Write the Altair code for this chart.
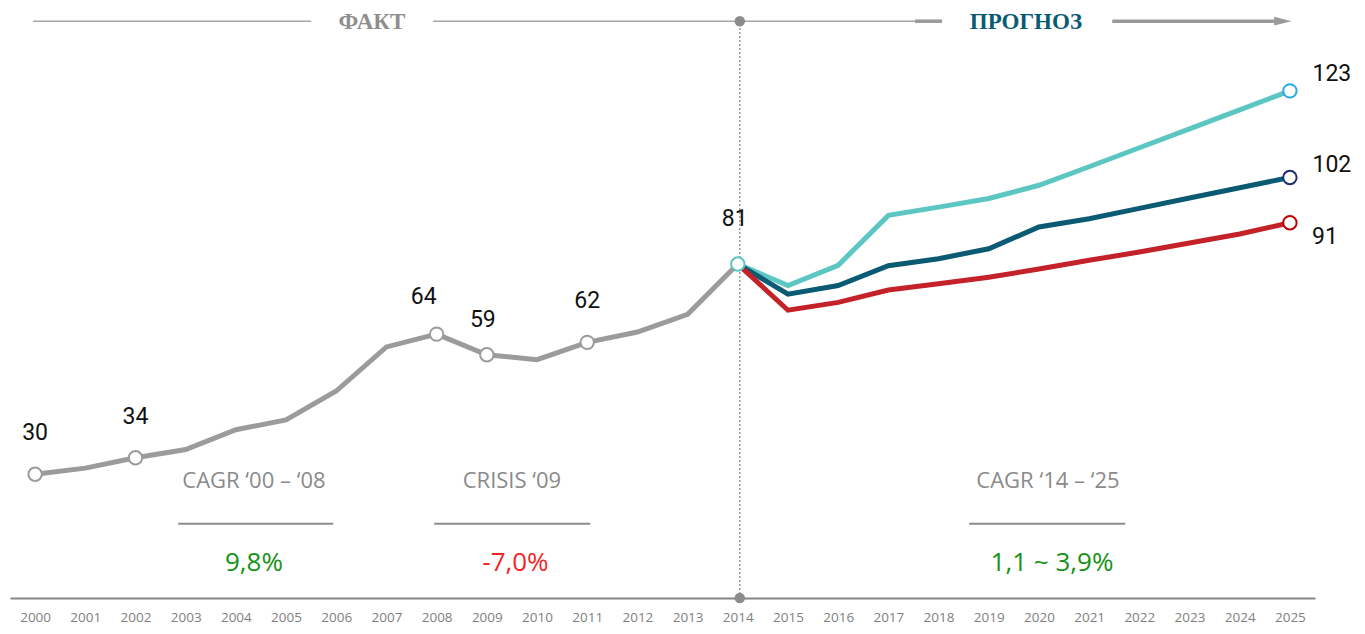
import altair as alt
import pandas as pd

# ---------------- data ----------------
fact_years = list(range(2000, 2015))
fact_values = [30, 31.5, 34, 36, 40.8, 43.2, 50.2, 60.9, 64, 59, 57.8, 62, 64.5, 68.8, 81]

fc_years = list(range(2014, 2026))
high = [81, 75.8, 80.7, 92.8, 94.8, 96.9, 100.1, 104.6, 109.2, 113.8, 118.4, 123]
mid = [81, 73.7, 75.8, 80.6, 82.3, 84.7, 90.0, 92.0, 94.5, 97.0, 99.5, 102]
low = [81, 69.8, 71.7, 74.7, 76.2, 77.8, 79.8, 81.9, 83.9, 86.1, 88.3, 91]

axis_years = list(range(2000, 2026))
marked_fact_years = [2000, 2002, 2008, 2009, 2011]

header_texts = ["ФАКТ", "ПРОГНОЗ"]
annot_titles = ["CAGR ‘00 – ‘08", "CRISIS ‘09", "CAGR ‘14 – ‘25"]
annot_values = ["9,8%", "-7,0%", "1,1 ~ 3,9%"]

# ---------------- tables ----------------
fact_df = pd.DataFrame({"year": fact_years, "value": fact_values})
fc_df = pd.concat([
    pd.DataFrame({"year": fc_years, "value": high, "s": "high"}),
    pd.DataFrame({"year": fc_years, "value": mid, "s": "mid"}),
    pd.DataFrame({"year": fc_years, "value": low, "s": "low"}),
])
fact_pts = fact_df[fact_df.year.isin(marked_fact_years)]
end_df = pd.DataFrame({
    "year": [2025, 2025, 2025],
    "value": [high[-1], mid[-1], low[-1]],
    "s": ["high", "mid", "low"],
})

GRAY = "#9b9b9b"
LINE_COLORS = {"high": "#5cc6c2", "mid": "#0a5a73", "low": "#c42129"}
END_COLORS = {"high": "#27aae1", "mid": "#1b2f6e", "low": "#c00000"}

xs = alt.Scale(domain=[1999.5, 2025.5], nice=False, zero=False)
ys = alt.Scale(domain=[0, 143.1], nice=False, zero=False)
xaxis = alt.Axis(values=axis_years, format="d", grid=False, ticks=False, title=None,
                 domainColor="#858585", domainWidth=2, labelColor="#808080",
                 labelFont="Open Sans", labelFontSize=13.5, labelPadding=23.5,
                 labelBaseline="alphabetic", labelFlush=False)


def X(f="year"):
    return alt.X(f"{f}:Q", scale=xs, axis=xaxis)


def Y(f="value"):
    return alt.Y(f"{f}:Q", scale=ys, axis=None)


# ---------------- header / decorations ----------------
HY = 139.9
thin_df = pd.DataFrame({"x0": [1999.96, 2007.93], "x1": [2005.50, 2017.53], "y": [HY, HY]})
thick_df = pd.DataFrame({"x0": [2017.53, 2021.46], "x1": [2018.07, 2024.75], "y": [HY, HY]})
thin = alt.Chart(thin_df).mark_rule(color="#a6a6a6", strokeWidth=1.5).encode(
    x=X("x0"), x2="x1", y=Y("y"))
thick = alt.Chart(thick_df).mark_rule(color="#9a9a9a", strokeWidth=3.5).encode(
    x=X("x0"), x2="x1", y=Y("y"))
arrow = alt.Chart(pd.DataFrame({"year": [2024.86], "value": [HY]})).mark_point(
    shape="M -1 -0.5 L 1 0 L -1 0.5 Z", filled=True, size=300, opacity=1,
    color="#9a9a9a", strokeWidth=0).encode(x=X(), y=Y())

head_df = pd.DataFrame({"year": [2006.71, 2019.74], "value": [138.1, 138.1],
                        "t": header_texts, "c": ["#8e8e8e", "#0b5a73"]})
heads = alt.Chart(head_df).mark_text(font="Liberation Serif", fontWeight="bold", fontSize=23,
                                     baseline="alphabetic", align="center").encode(
    x=X(), y=Y(), text="t:N", color=alt.Color("c:N", scale=None))

vline = alt.Chart(pd.DataFrame({"year": [2014.04], "y0": [0], "y1": [HY]})).mark_rule(
    color="#9a9a9a", strokeWidth=1.5, strokeDash=[2, 2]).encode(x=X(), y=Y("y0"), y2="y1")
vdots = alt.Chart(pd.DataFrame({"year": [2014.04, 2014.04], "value": [HY, 0]})).mark_point(
    filled=True, size=110, opacity=1, color="#8c8c8c").encode(x=X(), y=Y())

# ---------------- lines ----------------
fact_line = alt.Chart(fact_df).mark_line(color=GRAY, strokeWidth=5).encode(x=X(), y=Y())
fc_lines = [
    alt.Chart(fc_df[fc_df.s == s]).mark_line(color=LINE_COLORS[s], strokeWidth=5).encode(x=X(), y=Y())
    for s in ["high", "mid", "low"]
]

fact_dots = alt.Chart(fact_pts).mark_point(size=180, filled=False, fill="white", fillOpacity=1,
                                           stroke=GRAY, strokeWidth=2, opacity=1).encode(x=X(), y=Y())
dot14 = alt.Chart(fact_df[fact_df.year == 2014]).mark_point(
    size=180, fill="white", fillOpacity=1, stroke=LINE_COLORS["high"], strokeWidth=2, opacity=1).encode(
    x=X(), y=Y())
end_dots = alt.Chart(end_df).mark_point(size=180, fill="white", fillOpacity=1, strokeWidth=2, opacity=1).encode(
    x=X(), y=Y(), stroke=alt.Stroke("s:N", scale=alt.Scale(domain=list(END_COLORS), range=list(END_COLORS.values())), legend=None))


# ---------------- value labels ----------------
def vlabel(df, dx, dy):
    return alt.Chart(df).mark_text(font="Roboto", fontSize=23, color="#111111", dx=dx, dy=dy,
                                   baseline="middle", align="center").encode(
        x=X(), y=Y(), text=alt.Text("value:Q", format=".0f"))


labels = [
    vlabel(fact_df[fact_df.year.isin([2000, 2002, 2011])], 0, -41),
    vlabel(fact_df[fact_df.year == 2008], -13, -37),
    vlabel(fact_df[fact_df.year == 2009], -4, -35),
    vlabel(fact_df[fact_df.year == 2014], -3, -45),
    vlabel(end_df[end_df.s == "high"], 42, -17),
    vlabel(end_df[end_df.s == "mid"], 42, -12),
    vlabel(end_df[end_df.s == "low"], 35, 14),
]

# ---------------- annotations ----------------
ann_t = pd.DataFrame({"year": [2004.36, 2009.50, 2020.18], "value": [28.4] * 3, "t": annot_titles})
ann_v = pd.DataFrame({"year": [2004.36, 2009.57, 2020.26], "value": [8.5] * 3, "t": annot_values,
                      "c": ["#169216", "#f02626", "#169216"]})
ann_r = pd.DataFrame({"x0": [2002.85, 2007.95, 2018.61], "x1": [2005.94, 2011.06, 2021.72], "y": [18.0] * 3})

ann_titles = alt.Chart(ann_t).mark_text(font="Open Sans", fontSize=22, color="#8a8a8a",
                                        baseline="middle", align="center").encode(x=X(), y=Y(), text="t:N")
ann_vals = alt.Chart(ann_v).mark_text(font="Open Sans", fontSize=26, baseline="middle", align="center").encode(
    x=X(), y=Y(), text="t:N", color=alt.Color("c:N", scale=None))
ann_rules = alt.Chart(ann_r).mark_rule(color="#8c8c8c", strokeWidth=2).encode(x=X("x0"), x2="x1", y=Y("y"))

chart = alt.layer(
    thin, thick, arrow, heads, vline, vdots,
    ann_rules, ann_titles, ann_vals,
    fact_line, *fc_lines, fact_dots, dot14, end_dots, *labels,
).properties(
    width=1305, height=590,
    autosize=alt.AutoSizeParams(type="none"),
    padding={"left": 2, "top": 0, "right": 42, "bottom": 28},
).configure_view(strokeWidth=0)

chart.save("out.html", embed_options={"renderer": "svg", "actions": False})
